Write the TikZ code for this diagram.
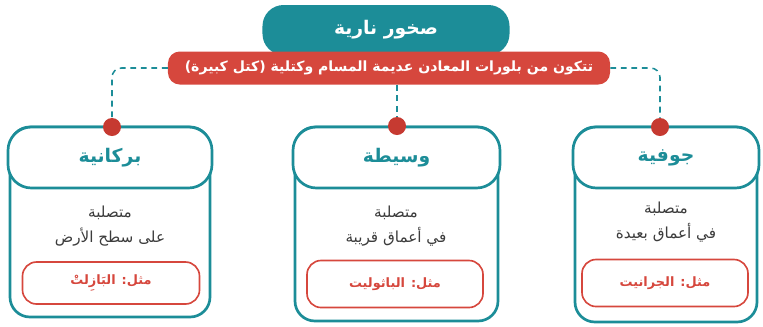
\documentclass[tikz,border=0pt]{standalone}
\usepackage{fontspec}
\newfontfamily\arabicfont[Script=Arabic]{DejaVu Sans}
\TeXXeTstate=1
\usetikzlibrary{positioning, arrows.meta}

\definecolor{rockteal}{HTML}{1C8D98}
\definecolor{rockred}{HTML}{D6473D}
\definecolor{dotred}{HTML}{C63A31}
\definecolor{bodygray}{HTML}{3C3C3C}

\tikzset{
  tabbox/.style={fill=rockteal, rounded corners=18pt, text=white,
    font=\arabicfont\bfseries\fontsize{16}{19}\selectfont},
  redbar/.style={fill=rockred, rounded corners=10pt, text=white,
    font=\arabicfont\bfseries\fontsize{12}{14}\selectfont},
  conn/.style={draw=rockteal, line width=1.3pt, dash pattern=on 5pt off 4pt, rounded corners=8pt},
  bodyline/.style={draw=rockteal, line width=2.3pt, rounded corners=17pt},
  headbox/.style={draw=rockteal, line width=2.3pt, fill=white, rounded corners=20pt,
    text=rockteal, font=\arabicfont\bfseries\fontsize{16}{19}\selectfont},
  bodytext/.style={text=bodygray, align=center,
    font=\arabicfont\fontsize{13}{21.5}\selectfont},
  examplebox/.style={draw=rockred, line width=1.4pt, fill=white, rounded corners=12pt,
    text=rockred, font=\arabicfont\bfseries\fontsize{11}{14}\selectfont},
  rockdot/.style={circle, fill=dotred, minimum size=0.54cm, inner sep=0pt}
}

\begin{document}
\begin{tikzpicture}[x=0.03cm, y=-0.03cm]
  \useasboundingbox (0,0) rectangle (763,326);

  % title tab and red bar
  \node[tabbox, minimum width=7.41cm, minimum height=1.5cm] (title) at (386,30)
        {\beginR صخور نارية\endR};
  \node[redbar, minimum width=13.26cm, minimum height=0.99cm] (bar) at (389,68)
        {\beginR تتكون من بلورات المعادن عديمة المسام وكتلية (كتل كبيرة)\endR};

  % the three kinds
  \draw[bodyline] (10,127) rectangle (210,317);
  \node[headbox, minimum width=6.12cm, minimum height=1.83cm] (headL) at (110,157.5)
        {\raisebox{-2pt}{\beginR بركانية\endR}};
  \node[bodytext] (txtL) at (110,226)
        {\beginR متصلبة\endR\\ \beginR على سطح الأرض\endR};
  \node[examplebox, minimum width=5.31cm, minimum height=1.26cm] (exL) at (111,283)
        {\beginR مثل: البَازِلتْ\endR};

  \draw[bodyline] (295,127) rectangle (498,321);
  \node[headbox, minimum width=6.21cm, minimum height=1.83cm] (headM) at (396.5,157.5)
        {\raisebox{-2pt}{\beginR وسيطة\endR}};
  \node[bodytext] (txtM) at (396,226)
        {\beginR متصلبة\endR\\ \beginR في أعماق قريبة\endR};
  \node[examplebox, minimum width=5.28cm, minimum height=1.41cm] (exM) at (395,284)
        {\beginR مثل: الباثوليت\endR};

  \draw[bodyline] (575,127) rectangle (757,322);
  \node[headbox, minimum width=5.58cm, minimum height=1.83cm] (headR) at (666,157.5)
        {\raisebox{-2pt}{\beginR جوفية\endR}};
  \node[bodytext] (txtR) at (666,222)
        {\beginR متصلبة\endR\\ \beginR في أعماق بعيدة\endR};
  \node[examplebox, minimum width=4.98cm, minimum height=1.41cm] (exR) at (665,283)
        {\beginR مثل: الجرانيت\endR};

  % dots and dashed connectors
  \node[rockdot] (dotL) at (112,127) {};
  \node[rockdot] (dotM) at (397,126) {};
  \node[rockdot] (dotR) at (660,127) {};

  \draw[conn] (bar.west) -| (dotL.north);
  \draw[conn] (dotM |- bar.south) -- (dotM.north);
  \draw[conn] (bar.east) -| (dotR.north);
\end{tikzpicture}
\end{document}
